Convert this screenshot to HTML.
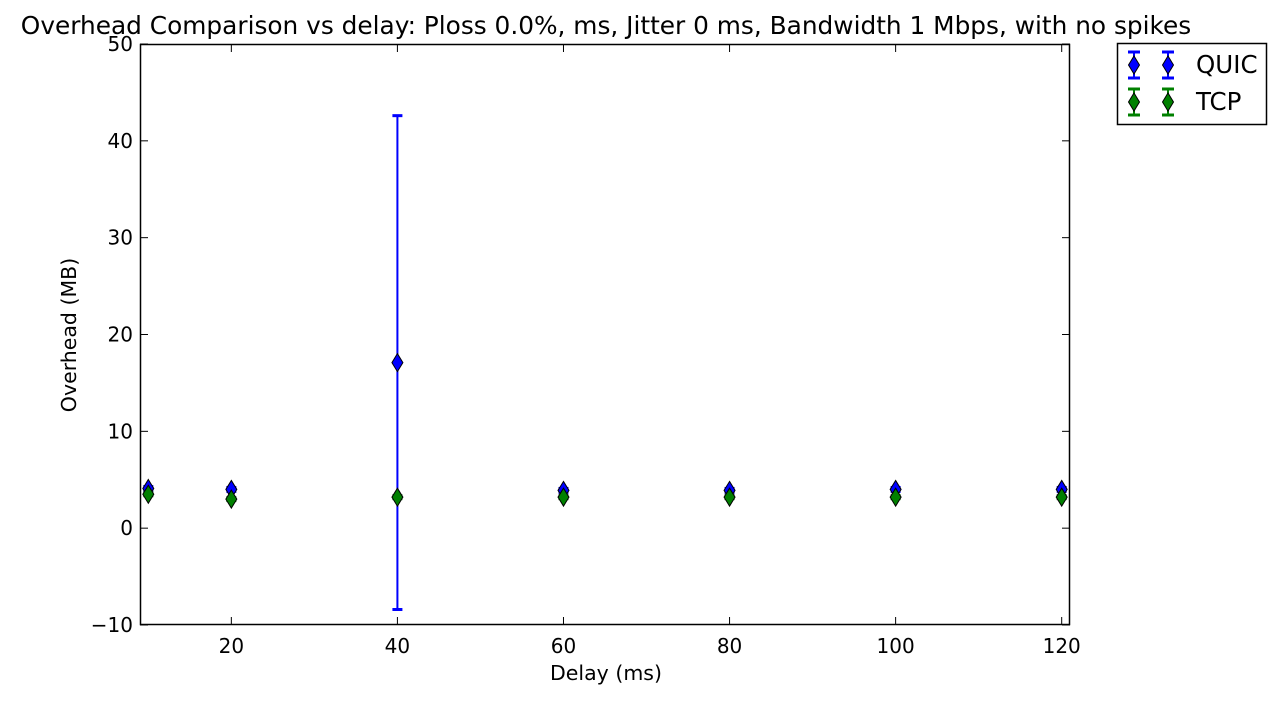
<!DOCTYPE html>
<html><head><meta charset="utf-8"><style>
body{margin:0;background:#fff;width:1282px;height:699px;overflow:hidden}
svg text{font-family:"DejaVu Sans","Liberation Sans",sans-serif}
</style></head><body>
<svg id="c" width="1282" height="699">
<text x="606" y="34" font-size="24.8" text-anchor="middle">Overhead Comparison vs delay: Ploss 0.0%, ms, Jitter 0 ms, Bandwidth 1 Mbps, with no spikes</text>
<g id="ax"></g>
<g id="marks"></g>
<rect x="140.5" y="44.5" width="929" height="580" fill="none" stroke="#000" stroke-width="1.5"/>
<text x="606" y="680" font-size="20.5" text-anchor="middle">Delay (ms)</text>
<text x="76" y="335" font-size="20.5" text-anchor="middle" transform="rotate(-90 76 335)">Overhead (MB)</text>
<g>
<rect x="1117.5" y="43.5" width="149" height="81" fill="#fff" stroke="#000" stroke-width="1.5"/>
<g id="leg"></g>
<text x="1196" y="73" font-size="24.5">QUIC</text>
<text x="1196" y="110" font-size="24.5">TCP</text>
</g>
</svg>
<script>
const delays=[10,20,40,60,80,100,120];
const quicMean=[4.1,4.0,17.1,3.9,3.9,4.0,4.0];
const quicErr=[0.2,0.2,25.5,0.2,0.2,0.2,0.2];
const tcpMean=[3.5,3.0,3.2,3.2,3.2,3.2,3.2];
const tcpErr=[0.15,0.15,0.15,0.15,0.15,0.15,0.15];
const xTicks=[20,40,60,80,100,120];
const yTicks=[-10,0,10,20,30,40,50];
const NS="http://www.w3.org/2000/svg";
const x=v=>140+(v-9)*(930/112);
const y=v=>625-(v+10)*(581/60);
function mk(t,a,p){const e=document.createElementNS(NS,t);for(const k in a)e.setAttribute(k,a[k]);p.appendChild(e);return e;}
const ax=document.getElementById('ax'),marks=document.getElementById('marks'),leg=document.getElementById('leg');
xTicks.forEach(t=>{
  const X=x(t);
  const l1=mk('line',{x1:X,x2:X,y1:625,y2:617,stroke:'#000'},ax);
  
  
  mk('line',{x1:X,x2:X,y1:44,y2:52,stroke:'#000'},ax);
  const tx=mk('text',{x:X,y:653,'font-size':20,'text-anchor':'middle'},ax);tx.textContent=t;
  
  
});
yTicks.forEach(t=>{
  const Y=y(t);
  mk('line',{x1:140,x2:148,y1:Y,y2:Y,stroke:'#000'},ax);
  mk('line',{x1:1070,x2:1062,y1:Y,y2:Y,stroke:'#000'},ax);
  const tx=mk('text',{x:133,y:Y+7,'font-size':20,'text-anchor':'end'},ax);tx.textContent=(t<0?'\u2212'+(-t):t);
  
  
});
function diamond(cx,cy,fill,p){
  return mk('polygon',{points:`${cx},${cy-9} ${cx+5.5},${cy} ${cx},${cy+9} ${cx-5.5},${cy}`,fill:fill,stroke:'#000','stroke-width':1},p);
}
function series(means,errs,col,name){
  means.forEach((m,i)=>{
    const g=mk('g',{},marks);
    
    
    const X=x(delays[i]),lo=y(m-errs[i]),hi=y(m+errs[i]);
    mk('line',{x1:X,x2:X,y1:lo,y2:hi,stroke:col,'stroke-width':2},g);
    mk('line',{x1:X-5,x2:X+5,y1:lo,y2:lo,stroke:col,'stroke-width':3},g);
    mk('line',{x1:X-5,x2:X+5,y1:hi,y2:hi,stroke:col,'stroke-width':3},g);
    diamond(X,y(m),col,g);
  });
}
series(quicMean,quicErr,'#0000ff','quic');
series(tcpMean,tcpErr,'#008000','tcp');
[[65,'#0000ff'],[102,'#008000']].forEach(([cy,col])=>{
  [1134,1168].forEach(cx=>{
    mk('line',{x1:cx,x2:cx,y1:cy-13,y2:cy+13,stroke:col,'stroke-width':2},leg);
    mk('line',{x1:cx-6,x2:cx+6,y1:cy-13,y2:cy-13,stroke:col,'stroke-width':3},leg);
    mk('line',{x1:cx-6,x2:cx+6,y1:cy+13,y2:cy+13,stroke:col,'stroke-width':3},leg);
    diamond(cx,cy,col,leg);
  });
});
</script>
</body></html>
